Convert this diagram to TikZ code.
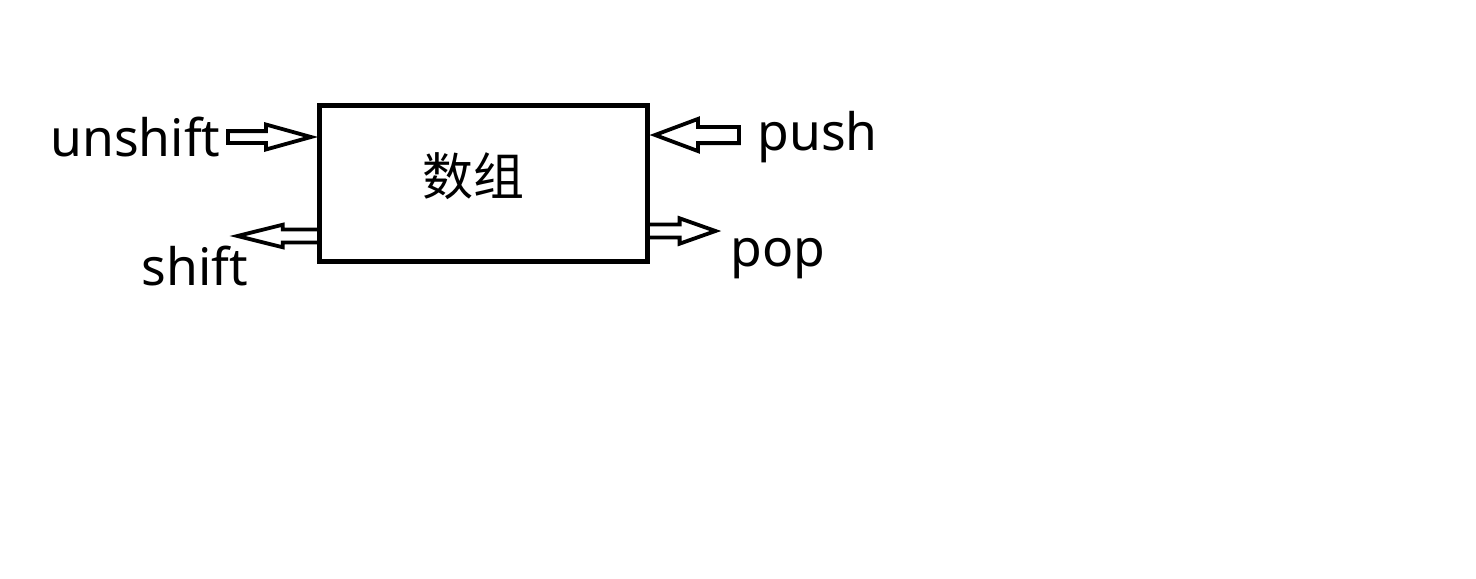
\documentclass[tikz,border=0pt]{standalone}
\usepackage{fontspec}
\setmainfont{Noto Sans}
\newfontfamily\cjk{Noto Sans CJK SC}
\usetikzlibrary{shapes.arrows}

\begin{document}
\begin{tikzpicture}[x=0.5pt,y=-0.5pt,
    opname/.style={inner sep=0pt,anchor=base west,font=\fontsize{25.8pt}{31pt}\selectfont},
    blockarrow/.style={single arrow,draw,fill=white,line width=1.9pt,inner xsep=0pt,outer sep=0pt,single arrow head indent=0pt}]
    \useasboundingbox (0,0) rectangle (1476,578);
    % arrows first, the box covers their tails
    \node[blockarrow,anchor=tip,inner ysep=2pt,minimum height=41.5pt,minimum width=10.6pt,single arrow head extend=3.3pt,single arrow tip angle=31] (ua) at (311,137) {};
    \node[blockarrow,anchor=tail,shape border rotate=180,inner ysep=2.3pt,minimum height=41pt,minimum width=9.4pt,single arrow head extend=2.4pt,single arrow tip angle=28] (sa) at (319.5,236) {};
    \node[blockarrow,anchor=tip,shape border rotate=180,inner ysep=3.1pt,minimum height=42pt,minimum width=14.2pt,single arrow head extend=4pt,single arrow tip angle=41] (pa) at (655,135) {};
    \node[blockarrow,anchor=tail,inner ysep=2.3pt,minimum height=34pt,minimum width=10.8pt,single arrow head extend=3.1pt,single arrow tip angle=39] (oa) at (647.5,231) {};
    \node[draw,line width=2.5pt,minimum width=164pt,minimum height=78pt,inner sep=0pt,outer sep=0pt] (arr) at (483.5,183.5) {};
    \node[inner sep=0pt,anchor=base,font=\cjk\fontsize{25.5pt}{30pt}\selectfont] (arrtxt) at (473,195) {数组};
    \node[opname] (unshift) at (50,156) {unshift};
    \node[opname] (shift) at (141,285) {shift};
    \node[opname] (push) at (757,150) {push};
    \node[opname] (pop) at (730,266) {pop};
\end{tikzpicture}
\end{document}
